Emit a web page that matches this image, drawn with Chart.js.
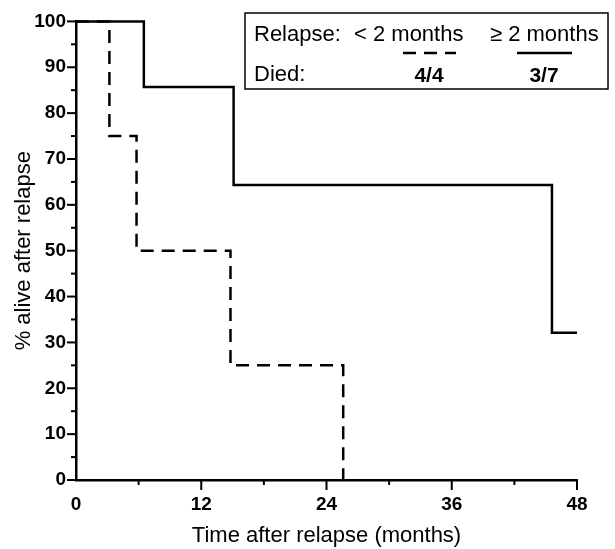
<!DOCTYPE html>
<html>
<head>
<meta charset="utf-8">
<script src="https://cdn.jsdelivr.net/npm/chart.js@4"></script>
<style>
  html, body { margin: 0; padding: 0; background: #fff; }
  #wrap { width: 615px; height: 549px; position: relative; }
</style>
</head>
<body>
<div id="wrap"><canvas id="graphSurvival"></canvas></div>
<script>
// Kaplan-Meier steps
const lateTimes = [0, 6.5, 15.1, 45.6, 48];
const lateSurvival = [100, 85.7, 64.3, 32.1, 32.1];
const earlyTimes = [0, 3.2, 5.8, 14.8, 25.6];
const earlySurvival = [100, 75, 50, 25, 0];

const xTickStep = 6;
const xLabelEvery = 12;
const yTickStep = 5;
const yLabelEvery = 10;

const legendRow1 = ['Relapse:', '< 2 months', '\u2265 2 months'];
const legendRow2 = ['Died:', '4/4', '3/7'];

const FONT = "'Liberation Sans', Arial, sans-serif";
const dashPattern = [13, 8];

const toPoints = (xs, ys) => xs.map((x, i) => ({ x: x, y: ys[i] }));

// tick marks drawn by hand so major/minor can have different lengths
const tickMarks = {
  id: 'tickMarks',
  afterDraw(chart) {
    const ctx = chart.ctx;
    const xs = chart.scales.x;
    const ys = chart.scales.y;
    ctx.save();
    ctx.strokeStyle = '#000';
    ctx.lineWidth = 2;
    ys.ticks.forEach(t => {
      const py = ys.getPixelForValue(t.value);
      const len = t.value % yLabelEvery === 0 ? 9 : 5;
      ctx.beginPath();
      ctx.moveTo(ys.right, py);
      ctx.lineTo(ys.right - len, py);
      ctx.stroke();
    });
    xs.ticks.forEach(t => {
      if (t.value === 0) return;
      const px = xs.getPixelForValue(t.value);
      const len = t.value % xLabelEvery === 0 ? 10 : 5;
      ctx.beginPath();
      ctx.moveTo(px, xs.top);
      ctx.lineTo(px, xs.top + len);
      ctx.stroke();
    });
    ctx.restore();
  }
};

// boxed legend in the top right corner
const boxLegend = {
  id: 'boxLegend',
  afterDraw(chart) {
    const ctx = chart.ctx;
    ctx.save();
    ctx.strokeStyle = '#000';
    ctx.lineWidth = 1.5;
    ctx.strokeRect(245, 13, 363, 76);

    ctx.fillStyle = '#000';
    ctx.font = '22px ' + FONT;
    ctx.textBaseline = 'middle';
    ctx.textAlign = 'left';
    ctx.fillText(legendRow1[0], 254, 35);
    ctx.fillText(legendRow1[1], 354, 35);
    ctx.fillText(legendRow1[2], 490, 35);
    ctx.fillText(legendRow2[0], 254, 75);
    ctx.textAlign = 'center';
    ctx.font = 'bold 21px ' + FONT;
    ctx.fillText(legendRow2[1], 429, 76);
    ctx.fillText(legendRow2[2], 544, 76);

    const ds = chart.data.datasets;
    ctx.lineWidth = 2.5;
    ctx.setLineDash(ds[1].borderDash);
    ctx.beginPath();
    ctx.moveTo(403, 53);
    ctx.lineTo(456, 53);
    ctx.stroke();
    ctx.setLineDash([]);
    ctx.beginPath();
    ctx.moveTo(517, 53);
    ctx.lineTo(572, 53);
    ctx.stroke();
    ctx.restore();
  }
};

const ctx1 = document.getElementById('graphSurvival');
let config1 = {
  type: 'line',
  data: {
    datasets: [{
      label: '\u2265 2 months',
      data: toPoints(lateTimes, lateSurvival),
      borderColor: '#000',
      borderWidth: 2.5,
      pointRadius: 0,
      stepped: true,
      clip: false,
      fill: false
    }, {
      label: '< 2 months',
      data: toPoints(earlyTimes, earlySurvival),
      borderColor: '#000',
      borderWidth: 2.5,
      borderDash: dashPattern,
      pointRadius: 0,
      stepped: true,
      clip: false,
      fill: false
    }]
  },
  options: {
    responsive: true,
    maintainAspectRatio: false,
    animation: false,
    layout: { padding: { top: 20, right: 38, left: 0, bottom: 0 } },
    plugins: {
      legend: { display: false },
      tooltip: { enabled: false }
    },
    scales: {
      x: {
        type: 'linear',
        min: 0,
        max: 48,
        afterFit: s => { s.height = 69; },
        border: { display: true, color: '#000', width: 2.5 },
        grid: { display: false, drawTicks: false },
        ticks: {
          stepSize: xTickStep,
          padding: 13,
          color: '#000',
          font: { family: FONT, size: 19, weight: 'bold' },
          maxRotation: 0,
          autoSkip: false,
          callback: v => v % xLabelEvery === 0 ? v : ''
        },
        title: {
          display: true,
          text: 'Time after relapse (months)',
          color: '#000',
          font: { family: FONT, size: 22 },
          padding: { top: 0, bottom: 0 }
        }
      },
      y: {
        min: 0,
        max: 100,
        afterFit: s => { s.width = 76; },
        border: { display: true, color: '#000', width: 2.5 },
        grid: { display: false, drawTicks: false },
        ticks: {
          stepSize: yTickStep,
          padding: 10,
          color: '#000',
          font: { family: FONT, size: 19, weight: 'bold' },
          autoSkip: false,
          callback: v => v % yLabelEvery === 0 ? v : ''
        },
        title: {
          display: true,
          text: '% alive after relapse',
          color: '#000',
          font: { family: FONT, size: 22 },
          padding: { top: 11, bottom: 0 }
        }
      }
    }
  },
  plugins: [tickMarks, boxLegend]
};
let chartSurvival = new Chart(ctx1, config1);
</script>
</body>
</html>
